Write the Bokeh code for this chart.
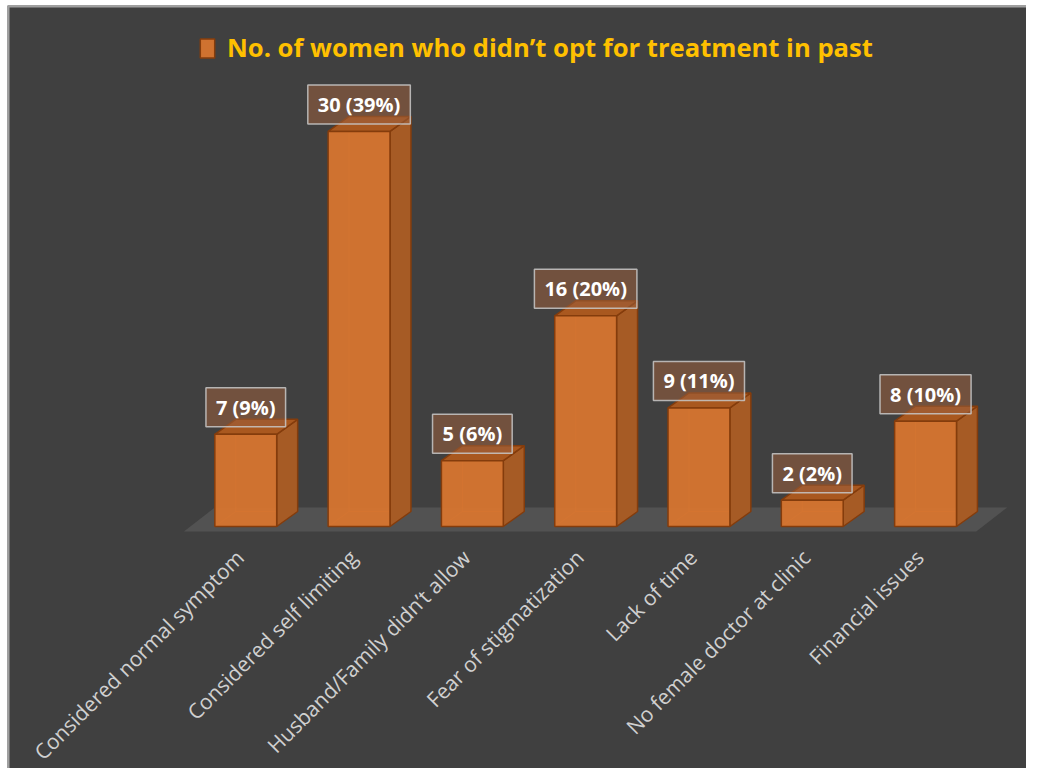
import math
from bokeh.plotting import figure
from bokeh.models import Range1d, Legend, LegendItem, ColumnDataSource, Span
from bokeh.core.properties import value
from bokeh.embed import file_html
from bokeh.resources import INLINE

# ---- data ----
categories = ["Considered normal symptom", "Considered self limiting",
              "Husband/Family didn\u2019t allow", "Fear of stigmatization",
              "Lack of time", "No female doctor at clinic", "Financial issues"]
counts = [7, 30, 5, 16, 9, 2, 8]
percents = [9, 39, 6, 20, 11, 2, 10]
series_name = "No. of women who didn\u2019t opt for treatment in past"

# ---- styling / geometry constants ----
BG = "#404040"
FRONT = "#D7752F"
SIDE = "#A65B25"
TOP = "#A9581F"
EDGE = "#843C0C"
W = 0.546          # bar width in category units
DX = 0.185         # depth offset x (category units)
DY = 1.14          # depth offset y (value units)

n = len(categories)
xs = list(range(n))
labels = [f"{c} ({p}%)" for c, p in zip(counts, percents)]

p = figure(width=1026, height=768, output_backend="svg", toolbar_location=None,
           x_range=Range1d(-2.103, 6.891), y_range=Range1d(-18.375, 39.56),
           background_fill_color=BG, border_fill_color="white", outline_line_color=None,
           min_border_left=7, min_border_right=0, min_border_top=5, min_border_bottom=0,
           x_axis_location=None, y_axis_location=None)
p.grid.visible = False

# chart-area border (left and top edges)
p.add_layout(Span(location=-2.094, dimension="height", line_color="#A0A0A0", line_width=2))
p.add_layout(Span(location=39.48, dimension="width", line_color="#A0A0A0", line_width=2))

# floor
fl_l, fl_r, fl_f, fl_b, fl_d = -0.546, 6.447, -0.38, 1.443, 0.273
p.patch([fl_l, fl_r, fl_r + fl_d, fl_l + fl_d], [fl_f, fl_f, fl_b, fl_b],
        fill_color="#525252", line_color=None)

# 3D faces
side_x, side_y, top_x, top_y = [], [], [], []
for i, v in zip(xs, counts):
    r = i + W / 2
    l = i - W / 2
    side_x.append([r, r + DX, r + DX, r])
    side_y.append([0, DY, v + DY, v])
    top_x.append([l, r, r + DX, l + DX])
    top_y.append([v, v, v + DY, v + DY])

src = ColumnDataSource(dict(x=xs, top=counts, label=labels, cat=categories, base=[0] * n,
                            left=[i - W / 2 for i in xs], right=[i + W / 2 for i in xs]))

# faint hidden back edges seen through the translucent bars
hid = dict(line_color="#E8843E", line_alpha=0.45, line_width=1)
p.segment(x0=[i - W / 2 + DX for i in xs], y0=[DY] * n,
          x1=[i - W / 2 + DX for i in xs], y1=[v + DY for v in counts], **hid)
p.segment(x0=[i - W / 2 + DX for i in xs], y0=[DY] * n,
          x1=[i + W / 2 + DX for i in xs], y1=[DY] * n, **hid)
p.segment(x0=[i - W / 2 for i in xs], y0=[0] * n,
          x1=[i - W / 2 + DX for i in xs], y1=[DY] * n, **hid)

p.patches(side_x, side_y, fill_color=SIDE, line_color=EDGE, line_width=1.5)
p.patches(top_x, top_y, fill_color=TOP, line_color=EDGE, line_width=1.5)
front = p.quad(left="left", right="right", bottom=0, top="top", source=src,
               fill_color=FRONT, fill_alpha=0.95, line_color=EDGE, line_width=1.5)

# data labels
p.text(x="x", y="top", text="label", source=src, y_offset=-27,
       text_align="center", text_baseline="middle",
       text_font=value("Open Sans"), text_font_style="bold", text_font_size="20px",
       text_color="white",
       background_fill_color="#9A5E3C", background_fill_alpha=0.55,
       border_line_color="#C8C8C8", border_line_alpha=0.85, border_line_width=1.5,
       padding=dict(left=10, right=10, top=6, bottom=6))

# category labels (rotated 45 degrees)
p.text(x="x", y="base", text="cat", source=src, x_offset=-6, y_offset=27,
       angle=math.pi / 4, text_align="right", text_baseline="middle",
       text_font=value("Open Sans"), text_font_size="21px", text_color="#D0D0D0")

# legend as title
legend = Legend(items=[LegendItem(label=series_name, renderers=[front])],
                location=(191, 703), orientation="horizontal",
                label_text_font="Open Sans", label_text_font_style="bold",
                label_text_font_size="25.6px", label_text_color="#FFC000",
                glyph_width=18, glyph_height=24, label_standoff=11,
                background_fill_alpha=0, border_line_color=None)
p.add_layout(legend)

open("out.html", "w").write(file_html(p, INLINE))
